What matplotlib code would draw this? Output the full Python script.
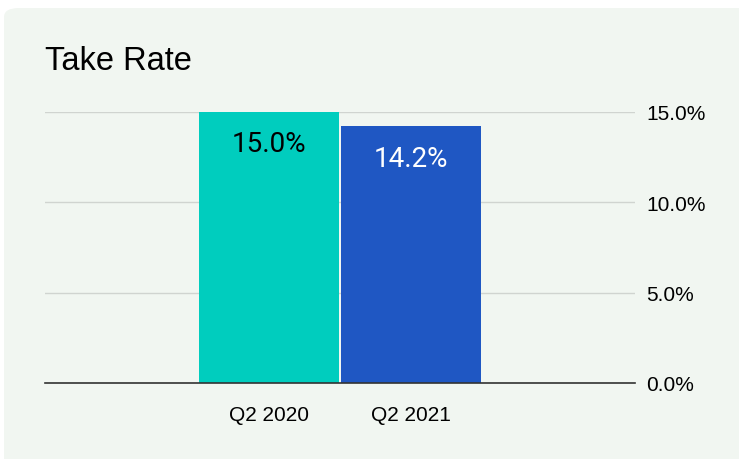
import numpy as np
import matplotlib
matplotlib.use("Agg")
import matplotlib.pyplot as plt
from matplotlib.patches import FancyBboxPatch

categories = ["Q2 2020", "Q2 2021"]
take_rate = [15.0, 14.2]
bar_colors = ["#00CDBE", "#1F57C3"]
label_colors = ["black", "white"]
yticks = [0, 5, 10, 15]

W, H = 739, 460
fig = plt.figure(figsize=(W / 100, H / 100), dpi=100)
fig.patch.set_facecolor("white")

# rounded card background (behind the axes), runs off right and bottom
card = FancyBboxPatch((4 / W, -30 / H), 780 / W, 481 / H,
                      boxstyle="round,pad=0,rounding_size=0.02",
                      transform=fig.transFigure, facecolor="#F1F6F1",
                      edgecolor="none", zorder=-5)
fig.patches.append(card)

ax = fig.add_axes([45 / W, (H - 384) / H, 590 / W, 271 / H])
ax.set_facecolor("none")

x = np.arange(len(categories))
bars = ax.bar(x, take_rate, width=0.979, color=bar_colors, zorder=3)

for b, v, c in zip(bars, take_rate, label_colors):
    ax.text(b.get_x() + b.get_width() / 2, v - 1.0, f"{v:.1f}%",
            ha="center", va="top", fontsize=20, color=c,
            family="Roboto", zorder=4)

ax.set_xlim(-1.577, 2.577)
ax.set_ylim(0, 15)
ax.set_xticks(x)
ax.set_xticklabels(categories, family="Liberation Sans", fontsize=15)
ax.yaxis.tick_right()
ax.set_yticks(yticks)
ax.set_yticklabels([f"{t:.1f}%" for t in yticks], family="Liberation Sans",
                   fontsize=15)
ax.tick_params(axis="both", length=0)
ax.tick_params(axis="y", pad=8)
ax.tick_params(axis="x", pad=16)
ax.grid(axis="y", color="#D0D4D0", linewidth=1, zorder=1)
ax.set_axisbelow(True)
for s in ["top", "left", "right"]:
    ax.spines[s].set_visible(False)
ax.spines["bottom"].set_color("#333333")
ax.spines["bottom"].set_linewidth(1.2)
ax.spines["bottom"].set_zorder(5)

fig.text(45 / W, 1 - 61 / H, "Take Rate", family="Liberation Sans",
         fontsize=23.5, va="center", ha="left")

fig.savefig("out.png", dpi=100)
